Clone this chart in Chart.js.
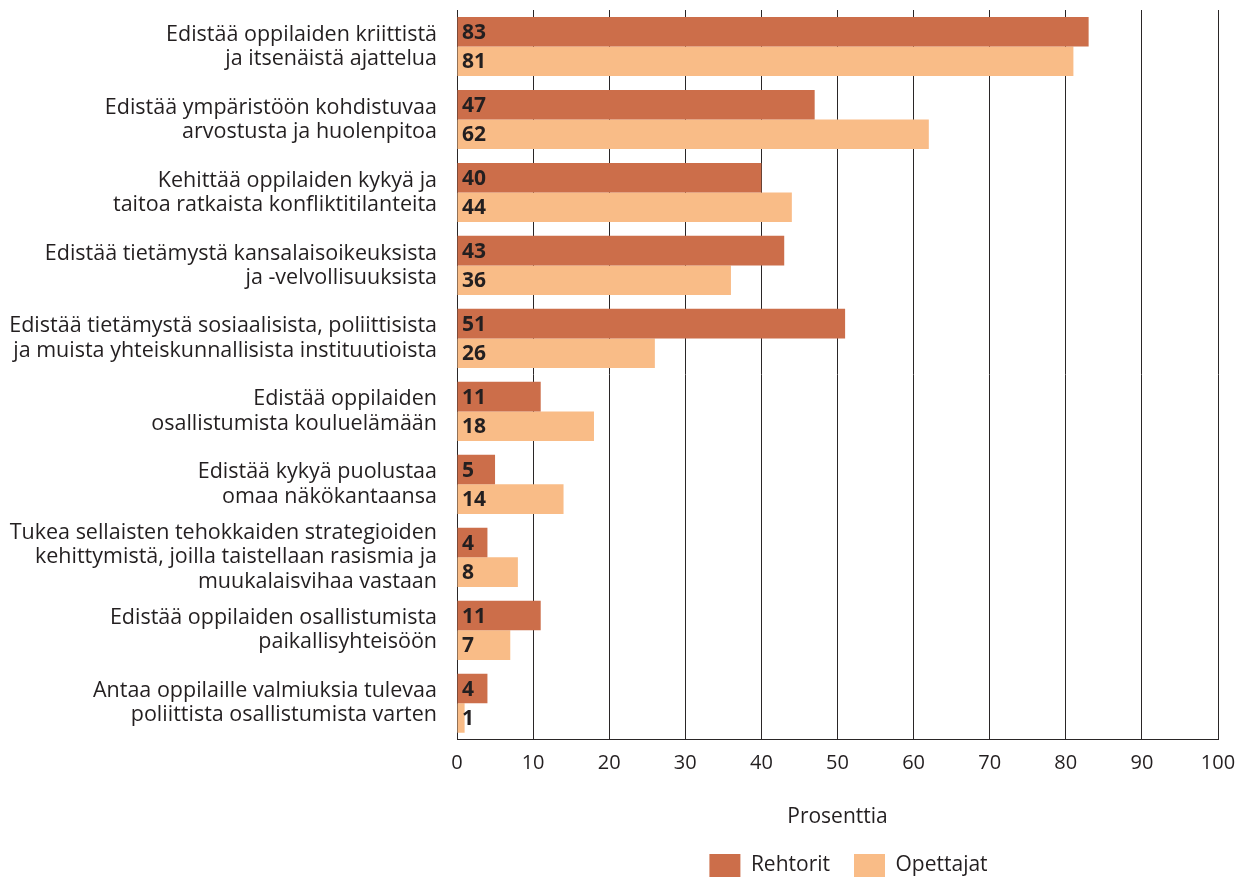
<!DOCTYPE html>
<html>
<head>
<meta charset="utf-8">
<script src="https://cdn.jsdelivr.net/npm/chart.js@4"></script>
<style>
  html, body { margin: 0; padding: 0; background: #fff; }
  #wrap { width: 1247px; height: 877px; }
</style>
</head>
<body>
<div id="wrap"><canvas id="myChart"></canvas></div>
<script>
const categories = [
  ["Edistää oppilaiden kriittistä", "ja itsenäistä ajattelua"],
  ["Edistää ympäristöön kohdistuvaa", "arvostusta ja huolenpitoa"],
  ["Kehittää oppilaiden kykyä ja", "taitoa ratkaista konfliktitilanteita"],
  ["Edistää tietämystä kansalaisoikeuksista", "ja -velvollisuuksista"],
  ["Edistää tietämystä sosiaalisista, poliittisista", "ja muista yhteiskunnallisista instituutioista"],
  ["Edistää oppilaiden", "osallistumista kouluelämään"],
  ["Edistää kykyä puolustaa", "omaa näkökantaansa"],
  ["Tukea sellaisten tehokkaiden strategioiden", "kehittymistä, joilla taistellaan rasismia ja", "muukalaisvihaa vastaan"],
  ["Edistää oppilaiden osallistumista", "paikallisyhteisöön"],
  ["Antaa oppilaille valmiuksia tulevaa", "poliittista osallistumista varten"],
];
const rehtorit = [83, 47, 40, 43, 51, 11, 5, 4, 11, 4];
const opettajat = [81, 62, 44, 36, 26, 18, 14, 8, 7, 1];
const xTicks = [0, 10, 20, 30, 40, 50, 60, 70, 80, 90, 100];

const textColor = "#231f20";
const fontFamily = "'Open Sans', sans-serif";

// numbers written inside the bars, at the left end
const valueLabels = {
  id: "valueLabels",
  afterDatasetsDraw(chart) {
    const ctx = chart.ctx;
    ctx.save();
    ctx.font = "bold 21px " + fontFamily;
    ctx.fillStyle = textColor;
    ctx.textBaseline = "middle";
    ctx.textAlign = "left";
    chart.data.datasets.forEach(function (ds, i) {
      const meta = chart.getDatasetMeta(i);
      meta.data.forEach(function (bar, j) {
        ctx.fillText(ds.data[j], chart.chartArea.left + 5, bar.y + 1);
      });
    });
    ctx.restore();
  },
};

// put the legend under the plot area (a bit right of its centre)
const legendUnderPlot = {
  id: "legendUnderPlot",
  afterLayout(chart) {
    const lg = chart.legend;
    lg.left = chart.chartArea.left + 22;
    lg.right = chart.chartArea.right;
    lg.width = lg.right - lg.left;
  },
};

const ctx = document.getElementById("myChart");
new Chart(ctx, {
  type: "bar",
  data: {
    labels: categories,
    datasets: [
      {
        label: "Rehtorit",
        data: rehtorit,
        backgroundColor: "#cc6e4a",
        categoryPercentage: 0.81,
        barPercentage: 1.0,
      },
      {
        label: "Opettajat",
        data: opettajat,
        backgroundColor: "#f9bc87",
        categoryPercentage: 0.81,
        barPercentage: 1.0,
      },
    ],
  },
  options: {
    indexAxis: "y",
    responsive: true,
    maintainAspectRatio: false,
    animation: false,
    layout: { padding: { top: 10, right: 29, bottom: -10, left: 0 } },
    plugins: {
      legend: {
        position: "bottom",
        labels: {
          boxWidth: 31,
          boxHeight: 23,
          padding: 24,
          color: textColor,
          font: { family: fontFamily, size: 21 },
        },
      },
      tooltip: { enabled: false },
    },
    scales: {
      x: {
        min: 0,
        max: 100,
        afterBuildTicks(scale) {
          scale.ticks = xTicks.map(function (v) { return { value: v }; });
        },
        grid: {
          color: "#2a2627",
          lineWidth: 1,
          drawTicks: false,
        },
        border: { color: "#2a2627", width: 1 },
        ticks: {
          color: textColor,
          padding: 11,
          autoSkip: false,
          maxRotation: 0,
          font: { family: fontFamily, size: 20 },
        },
        title: {
          display: true,
          text: "Prosenttia",
          color: textColor,
          font: { family: fontFamily, size: 21 },
          padding: { top: 19, bottom: 0 },
        },
      },
      y: {
        afterFit(scale) {
          scale.width = 457;
          scale.paddingTop = 0;
          scale.paddingBottom = 0;
        },
        grid: { display: false, drawTicks: false },
        border: { color: "#2a2627", width: 1 },
        ticks: {
          color: textColor,
          padding: 20,
          autoSkip: false,
          font: { family: fontFamily, size: 21.5, lineHeight: 1.12 },
        },
      },
    },
  },
  plugins: [valueLabels, legendUnderPlot],
});
</script>
</body>
</html>
